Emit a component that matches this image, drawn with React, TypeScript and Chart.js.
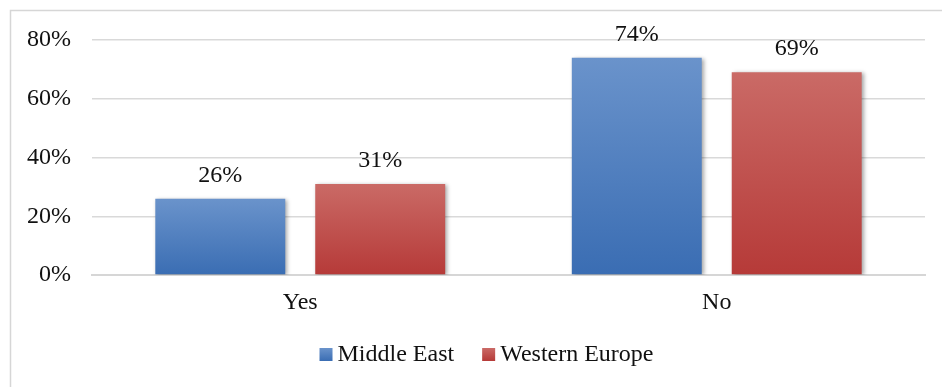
import React, { useEffect, useRef } from 'react';
import { Chart, registerables } from 'chart.js';

Chart.register(...registerables);

const categories = ['Yes', 'No'];
const seriesNames = ['Middle East', 'Western Europe'];
const middleEast = [26, 74];
const westernEurope = [31, 69];
const yMin = 0;
const yMax = 80;
const yStep = 20;

const FONT = "'Liberation Serif', 'Times New Roman', serif";
const FONT_SIZE = 24;

const BLUE_TOP = '#6a93cb';
const BLUE_BOTTOM = '#3a6db3';
const RED_TOP = '#ca6a66';
const RED_BOTTOM = '#b63a38';

export default function App() {
  const ref = useRef<HTMLCanvasElement>(null);

  useEffect(() => {
    document.body.style.margin = '0';
    const canvas = ref.current!;
    let cancelled = false;

    const grad = (top: string, bottom: string) => (ctx: any) => {
      const ch = ctx.chart;
      const y = ch.scales && ch.scales.y;
      if (!y || ctx.raw == null) return bottom;
      const y0 = y.getPixelForValue(ctx.raw);
      const y1 = y.getPixelForValue(0);
      if (!isFinite(y0) || !isFinite(y1) || y0 === y1) return bottom;
      const g = ch.ctx.createLinearGradient(0, y0, 0, y1);
      g.addColorStop(0, top);
      g.addColorStop(1, bottom);
      return g;
    };

    const frame = {
      id: 'frame',
      beforeDraw(ch: any) {
        const c = ch.ctx;
        c.save();
        c.strokeStyle = '#d6d6d6';
        c.lineWidth = 1.5;
        c.beginPath();
        c.moveTo(10.5, ch.height);
        c.lineTo(10.5, 10.5);
        c.lineTo(ch.width, 10.5);
        c.stroke();
        c.restore();
      },
    };

    const shadow = {
      id: 'shadow',
      beforeDatasetsDraw(ch: any) {
        const c = ch.ctx;
        c.save();
        c.shadowColor = 'rgba(0,0,0,0.35)';
        c.shadowBlur = 4;
        c.shadowOffsetX = 2;
        c.shadowOffsetY = 1;
      },
      afterDatasetsDraw(ch: any) {
        ch.ctx.restore();
      },
    };

    const valueLabels = {
      id: 'valueLabels',
      afterDatasetsDraw(ch: any) {
        const c = ch.ctx;
        c.save();
        c.font = `${FONT_SIZE}px ${FONT}`;
        c.fillStyle = '#111';
        c.textAlign = 'center';
        c.textBaseline = 'alphabetic';
        ch.data.datasets.forEach((ds: any, i: number) => {
          const meta = ch.getDatasetMeta(i);
          meta.data.forEach((bar: any, j: number) => {
            c.fillText(`${ds.data[j]}%`, bar.x, bar.y - 17);
          });
        });
        c.restore();
      },
    };

    const legendColors = [BLUE_TOP, RED_TOP];
    const legendColorsB = [BLUE_BOTTOM, RED_BOTTOM];
    const customLegend = {
      id: 'customLegend',
      afterDraw(ch: any) {
        const c = ch.ctx;
        c.save();
        c.font = `${FONT_SIZE}px ${FONT}`;
        const box = 13;
        const gap = 5;
        const itemGap = 28;
        const names = ch.data.datasets.map((d: any) => d.label);
        const widths = names.map((n: string) => box + gap + c.measureText(n).width);
        const total = widths.reduce((a: number, b: number) => a + b, 0) + itemGap * (names.length - 1);
        const center = (ch.chartArea.left + ch.chartArea.right) / 2 - 22;
        let x = center - total / 2;
        const baseline = 361;
        names.forEach((n: string, i: number) => {
          const g = c.createLinearGradient(0, baseline - box, 0, baseline);
          g.addColorStop(0, legendColors[i]);
          g.addColorStop(1, legendColorsB[i]);
          c.fillStyle = g;
          c.fillRect(x, baseline - box, box, box);
          c.fillStyle = '#111';
          c.textAlign = 'left';
          c.textBaseline = 'alphabetic';
          c.fillText(n, x + box + gap, baseline);
          x += widths[i] + itemGap;
        });
        c.restore();
      },
    };

    const chart = new Chart(canvas, {
      type: 'bar',
      data: {
        labels: categories,
        datasets: [
          {
            label: seriesNames[0],
            data: middleEast,
            backgroundColor: grad(BLUE_TOP, BLUE_BOTTOM),
            borderWidth: 0,
            categoryPercentage: 0.768,
            barPercentage: 0.8125,
          },
          {
            label: seriesNames[1],
            data: westernEurope,
            backgroundColor: grad(RED_TOP, RED_BOTTOM),
            borderWidth: 0,
            categoryPercentage: 0.768,
            barPercentage: 0.8125,
          },
        ],
      },
      options: {
        responsive: false,
        animation: false,
        layout: { padding: { top: 40, right: 17, bottom: 70, left: 0 } },
        plugins: {
          legend: { display: false },
          tooltip: { enabled: false },
        },
        scales: {
          x: {
            grid: { display: false, drawTicks: false },
            border: { display: true, color: '#d6d6d6', width: 2 },
            ticks: {
              color: '#111',
              font: { family: FONT, size: FONT_SIZE },
              padding: 13.5,
            },
            afterFit: (s: any) => {
              s.height = 42;
            },
          },
          y: {
            min: yMin,
            max: yMax,
            ticks: {
              stepSize: yStep,
              color: '#111',
              font: { family: FONT, size: FONT_SIZE },
              padding: 21,
              callback: (v: any) => `${v}%`,
            },
            grid: { color: '#d9d9d9', lineWidth: 1.5, drawTicks: false },
            border: { display: false },
            afterFit: (s: any) => {
              s.width = 92;
            },
          },
        },
      } as any,
      plugins: [frame, shadow, valueLabels, customLegend],
    });

    const fonts: any = (document as any).fonts;
    if (fonts && fonts.ready) {
      fonts.ready.then(() => {
        if (!cancelled) chart.update();
      });
    }

    return () => {
      cancelled = true;
      chart.destroy();
    };
  }, []);

  return (
    <div style={{ width: 942, height: 387, background: '#fff', overflow: 'hidden' }}>
      <canvas ref={ref} width={942} height={387} style={{ display: 'block' }} />
    </div>
  );
}
